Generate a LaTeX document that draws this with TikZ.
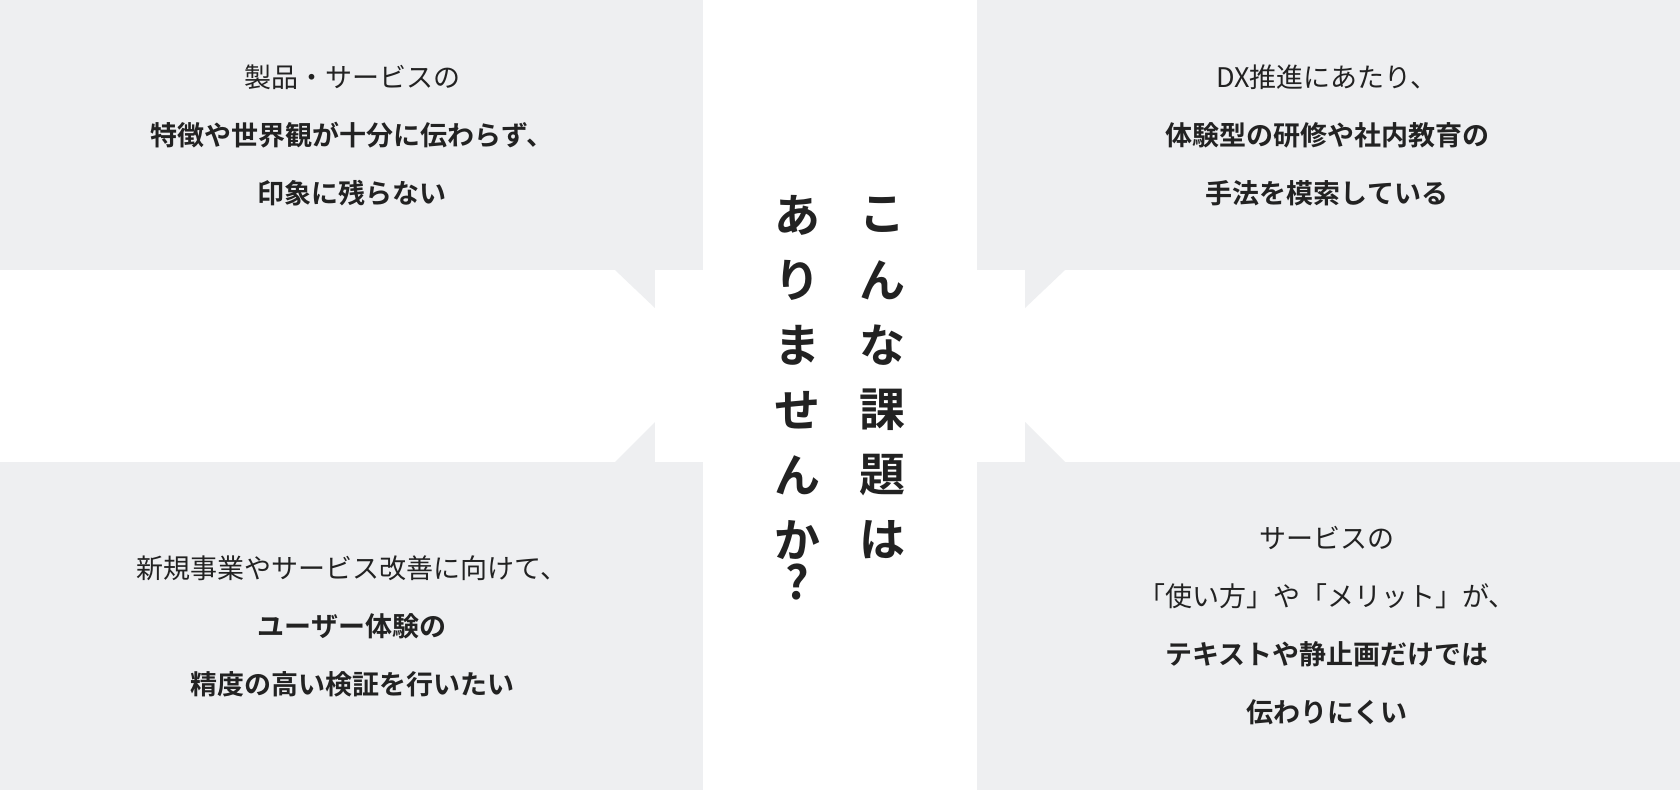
\documentclass[tikz,border=0pt]{standalone}
\usepackage{fontspec}
\newfontfamily\jp{Noto Sans CJK JP}
\newfontfamily\jpb{Noto Sans CJK JP Bold}
\definecolor{bg}{HTML}{EEEFF1}
\definecolor{ink}{HTML}{222222}
\begin{document}
\begin{tikzpicture}[x=1pt,y=-1pt,
  reg/.style={text=ink,font=\jp\fontsize{27}{27}\selectfont,anchor=center},
  bld/.style={text=ink,font=\jpb\fontsize{27}{27}\selectfont,anchor=center},
  big/.style={text=ink,font=\jpb\fontsize{46}{46}\selectfont,anchor=center}]
\useasboundingbox (0,0) rectangle (1680,790);
\fill[white] (0,0) rectangle (1680,790);
\fill[bg] (0,0) rectangle (703,270);
\fill[bg] (615,270) -- (655,270) -- (655,308) -- cycle;
\fill[bg] (0,462) rectangle (703,790);
\fill[bg] (615,462) -- (655,462) -- (655,422) -- cycle;
\fill[bg] (977,0) rectangle (1680,270);
\fill[bg] (1065,270) -- (1025,270) -- (1025,308) -- cycle;
\fill[bg] (977,462) rectangle (1680,790);
\fill[bg] (1065,462) -- (1025,462) -- (1025,422) -- cycle;
\fill[white] (655,270) rectangle (1025,462);
\fill[white] (703,0) rectangle (977,790);
\node[reg] (a1) at (352,77) {製品・サービスの};
\node[bld] (a2) at (352,135) {特徴や世界観が十分に伝わらず、};
\node[bld] (a3) at (352,193) {印象に残らない};
\node[reg] (b1) at (1327,77) {DX推進にあたり、};
\node[bld] (b2) at (1327,135) {体験型の研修や社内教育の};
\node[bld] (b3) at (1327,193) {手法を模索している};
\node[reg] (c1) at (352,568) {新規事業やサービス改善に向けて、};
\node[bld] (c2) at (352,626) {ユーザー体験の};
\node[bld] (c3) at (352,684) {精度の高い検証を行いたい};
\node[reg] (d1) at (1327,538) {サービスの};
\node[reg] (d2) at (1327,596) {「使い方」や「メリット」が、};
\node[bld] (d3) at (1327,654) {テキストや静止画だけでは};
\node[bld] (d4) at (1327,712) {伝わりにくい};
\foreach \c [count=\i] in {こ,ん,な,課,題,は}
  \node[big] (r\i) at (882,{150+\i*65}) {\c};
\foreach \c [count=\i] in {あ,り,ま,せ,ん,か}
  \node[big] (l\i) at (797,{150+\i*65}) {\c};
\node[big] (lq) at (797,582) {?};
\end{tikzpicture}
\end{document}
